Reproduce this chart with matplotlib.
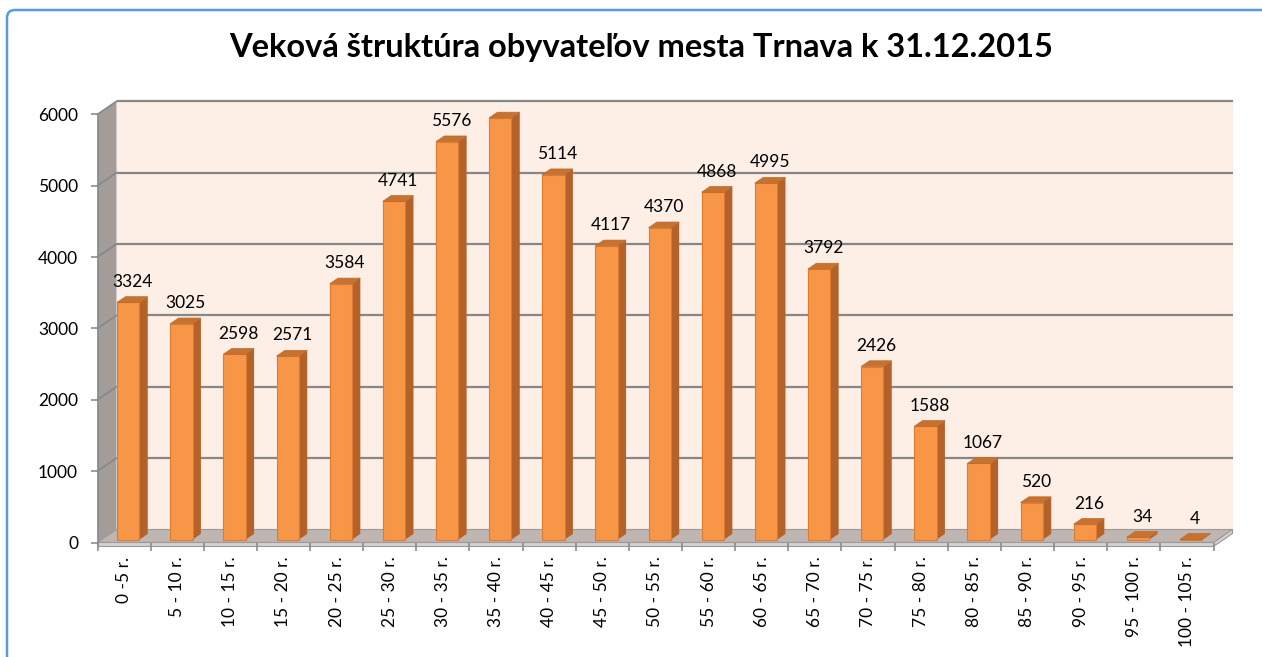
import matplotlib
matplotlib.use("Agg")
import matplotlib.pyplot as plt
from matplotlib.patches import Polygon, FancyBboxPatch
from matplotlib.transforms import IdentityTransform
import numpy as np

categories = ["0 -5 r.", "5 - 10 r.", "10 - 15 r.", "15 - 20 r.", "20 - 25 r.",
              "25 - 30 r.", "30 - 35 r.", "35 - 40 r.", "40 - 45 r.", "45 - 50 r.",
              "50 - 55 r.", "55 - 60 r.", "60 - 65 r.", "65 - 70 r.", "70 - 75 r.",
              "75 - 80 r.", "80 - 85 r.", "85 - 90 r.", "90 - 95 r.", "95 - 100 r.",
              "100 - 105 r."]
population = [3324, 3025, 2598, 2571, 3584, 4741, 5576, 5909, 5114, 4117, 4370,
              4868, 4995, 3792, 2426, 1588, 1067, 520, 216, 34, 4]
y_ticks = [0, 1000, 2000, 3000, 4000, 5000, 6000]
title = "Veková štruktúra obyvateľov mesta Trnava k 31.12.2015"

plt.rcParams['font.family'] = ['Lato', 'DejaVu Sans']

W, H = 1262, 657
fig = plt.figure(figsize=(W / 100, H / 100), dpi=100)
fig.patch.set_facecolor('white')

# chart-area border (blue, rounded top-left corner)
border = FancyBboxPatch((7, -30), W + 40, H - 10 + 30, boxstyle="round,pad=0,rounding_size=8",
                        transform=IdentityTransform(), facecolor='none',
                        edgecolor='#5B9BD5', linewidth=1.8)
fig.patches.append(border)

left_px, right_px = 97.5, 1213.5
bottom_px, top_px = 542.5, 114.3
ax = fig.add_axes([left_px / W, (H - bottom_px) / H,
                   (right_px - left_px) / W, (bottom_px - top_px) / H])
n = len(categories)
ax.set_xlim(-0.5, n - 0.5)
ax.set_ylim(0, 6000)
ax.set_facecolor('none')

px_x = n / (right_px - left_px)
px_y = 6000 / (bottom_px - top_px)
dx = 19 * px_x
dy = 13 * px_y

x0, x1 = -0.5, n - 0.5
ymax = 6000

# back wall
ax.add_patch(Polygon([(x0 + dx, dy), (x1 + dx, dy), (x1 + dx, ymax + dy), (x0 + dx, ymax + dy)],
                     closed=True, facecolor='#FDEEE6', edgecolor='none', zorder=0, clip_on=False))
# left side wall
ax.add_patch(Polygon([(x0, 0), (x0 + dx, dy), (x0 + dx, ymax + dy), (x0, ymax)],
                     closed=True, facecolor='#A39D99', edgecolor='none', zorder=1, clip_on=False))
# floor
ax.add_patch(Polygon([(x0, 0), (x1, 0), (x1 + dx, dy), (x0 + dx, dy)],
                     closed=True, facecolor='#BFB5B1', edgecolor='#9A9A9A', linewidth=0.8,
                     zorder=1, clip_on=False))
# floor front slab
slab = 4 * px_y
ax.add_patch(Polygon([(x0, 0), (x1, 0), (x1 + dx, dy), (x1 + dx, dy - slab), (x1, -slab), (x0, -slab)],
                     closed=True, facecolor='#D6D1CF', edgecolor='#9A9A9A', linewidth=0.8,
                     zorder=1, clip_on=False))

# gridlines on back and side wall
for v in y_ticks[1:]:
    ax.plot([x0 + dx, x1 + dx], [v + dy, v + dy], color='#878787', lw=1.6, zorder=2,
            clip_on=False, solid_capstyle='butt')
    ax.plot([x0, x0 + dx], [v, v + dy], color='#878787', lw=1.2, zorder=2, clip_on=False)

# bars
xs = np.arange(n)
w = 0.42
f0 = 0.22
fd = 0.44
front_col = '#F79646'
side_col = '#B4622A'
top_col = '#C8722F'
edge_col = '#E07A2E'
ax.bar(xs + f0 * dx, population, width=w, bottom=f0 * dy, color=front_col,
       edgecolor=edge_col, linewidth=0.8, zorder=5, clip_on=False)
for xi, v in zip(xs, population):
    xl = xi + f0 * dx - w / 2
    xr = xi + f0 * dx + w / 2
    yb = f0 * dy
    yt = v + f0 * dy
    ax.add_patch(Polygon([(xr, yb), (xr + fd * dx, yb + fd * dy), (xr + fd * dx, yt + fd * dy), (xr, yt)],
                         closed=True, facecolor=side_col, edgecolor='none', zorder=4, clip_on=False))
    ax.add_patch(Polygon([(xl, yt), (xr, yt), (xr + fd * dx, yt + fd * dy), (xl + fd * dx, yt + fd * dy)],
                         closed=True, facecolor=top_col, edgecolor='#B86A2C', linewidth=0.5,
                         zorder=6, clip_on=False))
    ax.annotate(f"{v}", (xi + f0 * dx + fd * dx / 2, yt + fd * dy), xytext=(0, 5),
                textcoords='offset points', ha='center', va='bottom', fontsize=12.5,
                color='black', zorder=7)

# axes styling
for s in ['top', 'right', 'bottom']:
    ax.spines[s].set_visible(False)
ax.spines['left'].set_color('#8C8C8C')
ax.spines['left'].set_linewidth(1.2)
ax.spines['left'].set_zorder(3)

ax.set_yticks(y_ticks)
ax.set_yticklabels([str(t) for t in y_ticks])
ax.tick_params(axis='y', length=5, width=1.2, color='#8C8C8C', pad=9, labelsize=12.5)

ax.set_xticks(xs)
ax.set_xticklabels(categories, rotation=90, ha='center', va='top')
ax.tick_params(axis='x', which='major', length=0, pad=10, labelsize=12.5)
ax.set_xticks(np.arange(n + 1) - 0.5, minor=True)
ax.tick_params(axis='x', which='minor', length=5.4, width=1.2, color='#8C8C8C')

fig.text(641 / W, 1 - 48 / H, title, ha='center', va='center', fontsize=23.5,
         fontweight='bold', color='black')

fig.savefig('out.png', dpi=100)
